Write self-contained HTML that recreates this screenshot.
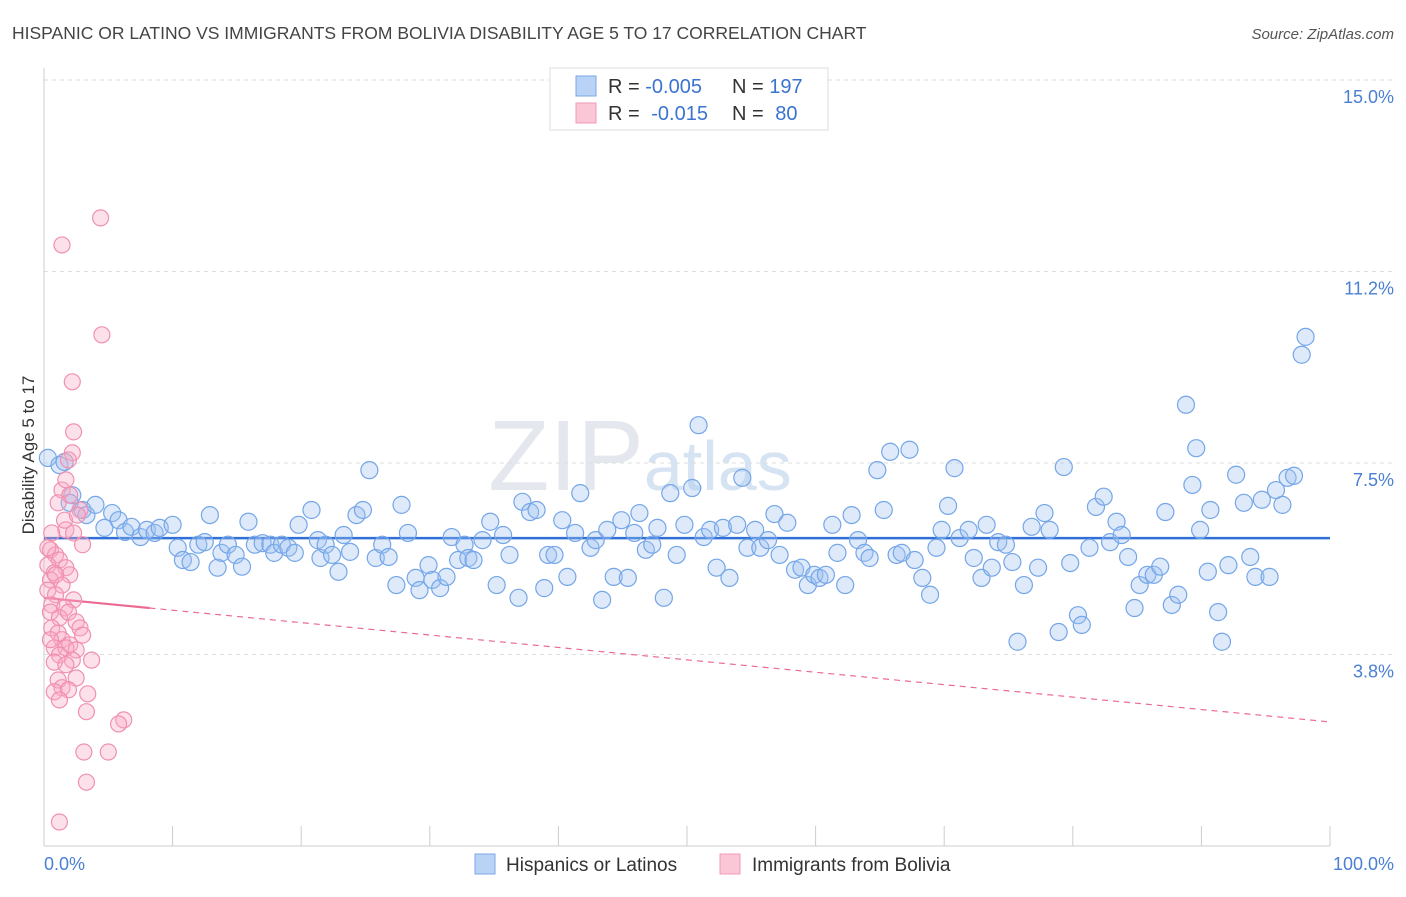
<!DOCTYPE html>
<html><head><meta charset="utf-8"><style>
body{margin:0;background:#fff;font-family:"Liberation Sans",sans-serif;}
svg text{font-family:"Liberation Sans",sans-serif;}
</style></head><body>
<svg id="chart" width="1406" height="892" xmlns="http://www.w3.org/2000/svg">
<text x="12" y="39" font-size="17.5" fill="#444">HISPANIC OR LATINO VS IMMIGRANTS FROM BOLIVIA DISABILITY AGE 5 TO 17 CORRELATION CHART</text>
<text x="1394" y="39" font-size="15" fill="#555" font-style="italic" text-anchor="end">Source: ZipAtlas.com</text>
<text x="640" y="490" font-size="100" fill="#e4e8ee" font-family="Liberation Serif" text-anchor="middle">ZIP<tspan font-family="Liberation Sans" font-size="70" fill="#d6e3f2">atlas</tspan></text>
<g id="grid"></g><g id="axes"></g><g id="trend"></g><g id="pts"></g>
<text x="34" y="455" font-size="17" fill="#333" text-anchor="middle" transform="rotate(-90 34 455)">Disability Age 5 to 17</text>
<text x="44" y="870" font-size="18" fill="#4a7fd4">0.0%</text>
<text x="1394" y="870" font-size="18" fill="#4a7fd4" text-anchor="end">100.0%</text>
<g>
<rect x="550" y="68" width="278" height="62" fill="#fff" stroke="#ddd"/>
<rect x="576" y="76" width="20" height="20" fill="#b8d3f5" stroke="#7aa8e6"/>
<rect x="576" y="103" width="20" height="20" fill="#fac7d6" stroke="#f09ab6"/>
<text x="608" y="93" font-size="20" fill="#333">R = <tspan fill="#3a74d0">-0.005</tspan></text>
<text x="732" y="93" font-size="20" fill="#333">N = <tspan fill="#3a74d0">197</tspan></text>
<text x="608" y="120" font-size="20" fill="#333">R = <tspan fill="#3a74d0" dx="6">-0.015</tspan></text>
<text x="732" y="120" font-size="20" fill="#333">N = <tspan fill="#3a74d0" dx="6">80</tspan></text>
</g>
<g>
<rect x="475" y="854" width="20" height="20" fill="#b8d3f5" stroke="#7aa8e6"/>
<text x="506" y="871" font-size="19" fill="#333">Hispanics or Latinos</text>
<rect x="720" y="854" width="20" height="20" fill="#fac7d6" stroke="#f09ab6"/>
<text x="752" y="871" font-size="19" fill="#333">Immigrants from Bolivia</text>
</g>
</svg>
<script>
const yTicks=[15.0,11.25,7.5,3.75];
const yTickLabels=["15.0%","11.2%","7.5%","3.8%"];
const xTicks=[10,20,30,40,50,60,70,80,90,100];
const blueX=[0.3,1.2,1.6,2.2,2.0,3.0,3.3,4.0,4.7,5.3,5.8,6.3,6.8,7.5,8.0,8.6,9.0,10.0,10.4,10.8,11.4,12.0,12.5,12.9,13.5,13.8,14.3,14.9,15.4,15.9,16.4,17.0,17.6,17.9,18.5,19.0,19.5,19.8,20.8,21.3,21.5,21.9,22.4,22.9,23.3,23.8,24.3,24.8,25.3,25.8,26.3,26.8,27.4,27.8,28.3,28.9,29.2,29.9,30.2,30.8,31.3,31.7,32.2,32.7,33.0,33.4,34.1,34.7,35.2,35.7,36.2,36.9,37.2,37.8,38.3,38.9,39.2,39.7,40.3,40.7,41.3,41.7,42.5,42.9,43.4,43.8,44.3,44.9,45.4,45.9,46.3,46.8,47.3,47.7,48.2,48.7,49.2,49.8,50.4,50.9,51.3,51.8,52.3,52.8,53.3,53.9,54.3,54.7,55.3,55.7,56.3,56.8,57.2,57.8,58.4,58.9,59.4,59.9,60.3,60.8,61.3,61.7,62.3,62.8,63.3,63.8,64.2,64.8,65.3,65.8,66.3,66.7,67.3,67.7,68.3,68.9,69.4,69.8,70.3,70.8,71.2,71.9,72.3,72.9,73.3,73.7,74.2,74.8,75.3,75.7,76.2,76.8,77.3,77.8,78.2,78.9,79.3,79.8,80.4,80.7,81.3,81.8,82.4,82.9,83.4,83.8,84.3,84.8,85.2,85.8,86.3,86.8,87.2,87.7,88.2,88.8,89.3,89.6,89.9,90.5,90.7,91.3,91.6,92.1,92.7,93.3,93.8,94.2,94.7,95.3,95.8,96.3,96.7,97.2,97.8,98.1];
const blueY=[7.60,7.46,7.52,6.87,6.72,6.58,6.48,6.68,6.23,6.52,6.38,6.15,6.25,6.05,6.19,6.13,6.23,6.29,5.84,5.60,5.56,5.90,5.95,6.48,5.45,5.74,5.90,5.70,5.47,6.35,5.90,5.93,5.90,5.74,5.90,5.84,5.74,6.29,6.58,5.99,5.64,5.90,5.70,5.37,6.09,5.76,6.48,6.58,7.36,5.64,5.90,5.66,5.11,6.68,6.13,5.25,5.01,5.50,5.21,5.05,5.27,6.05,5.60,5.90,5.64,5.60,5.99,6.35,5.11,6.09,5.70,4.86,6.74,6.54,6.58,5.05,5.70,5.70,6.38,5.27,6.13,6.91,5.84,5.99,4.82,6.19,5.27,6.38,5.25,6.13,6.52,5.80,5.90,6.23,4.86,6.91,5.70,6.29,7.01,8.24,6.05,6.19,5.45,6.23,5.25,6.29,7.21,5.84,6.19,5.84,5.99,6.50,5.70,6.33,5.41,5.45,5.11,5.31,5.25,5.31,6.29,5.74,5.11,6.48,5.99,5.74,5.64,7.36,6.58,7.72,5.70,5.74,7.76,5.60,5.25,4.92,5.84,6.19,6.66,7.40,6.03,6.19,5.64,5.25,6.29,5.45,5.95,5.90,5.56,4.00,5.11,6.25,5.45,6.52,6.19,4.19,7.42,5.54,4.52,4.33,5.84,6.64,6.84,5.95,6.35,6.09,5.66,4.66,5.11,5.31,5.31,5.47,6.54,4.72,4.92,8.64,7.07,7.79,6.19,5.37,6.58,4.58,4.00,5.50,7.27,6.72,5.66,5.27,6.78,5.27,6.97,6.68,7.21,7.25,9.62,9.97];
const pinkX=[1.4,4.4,4.5,2.2,2.3,2.2,1.9,1.4,2.0,1.1,2.8,1.7,2.3,3.0,0.6,0.5,0.9,1.2,0.3,1.7,0.8,2.0,0.5,1.4,0.3,0.9,2.3,0.6,1.6,0.5,1.2,1.9,2.5,0.6,2.8,1.1,1.4,2.0,0.8,1.7,2.5,1.2,2.2,3.7,0.8,1.7,1.1,2.5,1.4,0.8,1.9,3.4,1.2,3.3,6.2,5.8,3.1,5.0,3.3,1.2,0.5,3.0,0.9,0.3,1.6,2.6,1.7];
const pinkY=[11.77,12.30,10.01,9.09,8.11,7.70,7.56,6.97,6.87,6.72,6.58,6.19,6.13,5.90,6.13,5.80,5.70,5.60,5.50,5.45,5.35,5.31,5.21,5.11,5.01,4.92,4.82,4.72,4.66,4.58,4.47,4.58,4.39,4.27,4.27,4.17,4.04,3.94,3.88,3.88,3.84,3.74,3.64,3.64,3.60,3.55,3.25,3.29,3.10,3.02,3.06,2.98,2.86,2.63,2.47,2.39,1.84,1.84,1.25,0.47,4.04,4.13,5.31,5.84,6.38,6.48,7.17];
const blueTrend=[6.03,6.03];
const pinkTrend=[4.86,2.43];
const pinkSolidEnd=8.2;

const NS="http://www.w3.org/2000/svg";
const X0=44,X1=1330,Ytop=80,Ybot=846;
function sx(v){return X0+(X1-X0)*v/100;}
function sy(v){return Ybot-(Ybot-Ytop)*v/15;}
function mk(tag,attrs,parent){const e=document.createElementNS(NS,tag);for(const k in attrs)e.setAttribute(k,attrs[k]);document.getElementById(parent).appendChild(e);return e;}
yTicks.forEach((t,i)=>{
  const l=mk('line',{x1:X0,x2:1394,y1:sy(t),y2:sy(t),stroke:'#ddd','stroke-dasharray':'4 4'},'grid');
  
  
  const tx=mk('text',{x:1394,y:sy(t)+23,'font-size':18,fill:'#4a7fd4','text-anchor':'end'},'grid');
  tx.textContent=yTickLabels[i];
  
  
});
const ya=mk('line',{x1:X0,x2:X0,y1:68,y2:Ybot,stroke:'#ccc'},'axes');


const xa=mk('line',{x1:X0,x2:X1,y1:Ybot,y2:Ybot,stroke:'#ccc'},'axes');


xTicks.forEach(t=>{
  const l=mk('line',{x1:sx(t),x2:sx(t),y1:Ybot-20,y2:Ybot,stroke:'#ccc'},'axes');
  
  
});
blueX.forEach((x,i)=>{
  const c=mk('circle',{cx:sx(x),cy:sy(blueY[i]),r:8.5,fill:'rgba(160,195,240,0.35)',stroke:'#74a6e8','stroke-width':1.2},'pts');
  
  
});
pinkX.forEach((x,i)=>{
  const c=mk('circle',{cx:sx(x),cy:sy(pinkY[i]),r:8,fill:'rgba(248,170,195,0.35)',stroke:'#f090b0','stroke-width':1.2},'pts');
  
  
});
const bt=mk('line',{x1:sx(0),x2:sx(100),y1:sy(blueTrend[0]),y2:sy(blueTrend[1]),stroke:'#2f6fd6','stroke-width':2.5},'trend');


const pAt=x=>pinkTrend[0]+(pinkTrend[1]-pinkTrend[0])*x/100;
const ps=mk('line',{x1:sx(0),x2:sx(pinkSolidEnd),y1:sy(pAt(0)),y2:sy(pAt(pinkSolidEnd)),stroke:'#ec6a92','stroke-width':2.2},'trend');


const pd=mk('line',{x1:sx(pinkSolidEnd),x2:sx(100),y1:sy(pAt(pinkSolidEnd)),y2:sy(pAt(100)),stroke:'#ec6a92','stroke-width':1.2,'stroke-dasharray':'6 5'},'trend');


</script>
</body></html>
